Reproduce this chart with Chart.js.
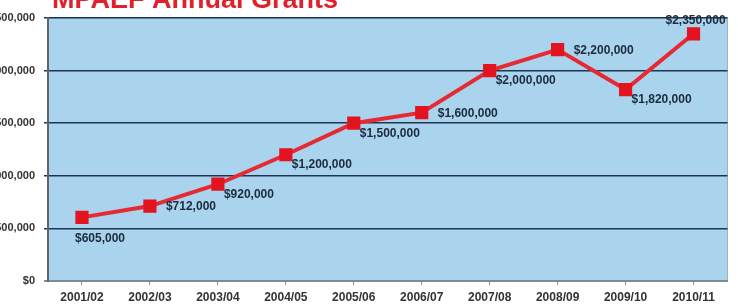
<!DOCTYPE html>
<html>
<head>
<meta charset="utf-8">
<script src="https://cdn.jsdelivr.net/npm/chart.js@4.4.1/dist/chart.umd.min.js"></script>
<style>
  html, body { margin: 0; padding: 0; background: #fff; }
  #wrap { position: relative; width: 738px; height: 304px; }
</style>
</head>
<body>
<div id="wrap"><canvas id="myChart"></canvas></div>
<script>
/* globals Chart:false */

const years = ['2001/02', '2002/03', '2003/04', '2004/05', '2005/06',
  '2006/07', '2007/08', '2008/09', '2009/10', '2010/11']
const grants = [605000, 712000, 920000, 1200000, 1500000,
  1600000, 2000000, 2200000, 1820000, 2350000]
const yTicks = [0, 500000, 1000000, 1500000, 2000000, 2500000]
const chartTitle = 'MPAEF Annual Grants'

// where each value label sits relative to its point
const labelPos = ['below', 'right', 'br', 'br', 'br', 'right', 'br', 'right', 'br', 'above']

const money = v => '$' + v.toLocaleString('en-US')

const plotBg = {
  id: 'plotBg',
  beforeDraw (chart) {
    const { ctx, chartArea: a } = chart
    ctx.save()
    ctx.fillStyle = '#aad3ee'
    ctx.fillRect(a.left, a.top, a.right - a.left, a.bottom - a.top)
    ctx.strokeStyle = '#9fb0bf'
    ctx.lineWidth = 1
    ctx.strokeRect(a.left, a.top, a.right - a.left, a.bottom - a.top)
    ctx.restore()
  }
}

const valueLabels = {
  id: 'valueLabels',
  afterDatasetsDraw (chart) {
    const { ctx } = chart
    const meta = chart.getDatasetMeta(0)
    ctx.save()
    ctx.font = 'bold 12px "Liberation Sans", Arial, sans-serif'
    ctx.fillStyle = '#1b2b3c'
    ctx.textBaseline = 'middle'
    meta.data.forEach((pt, i) => {
      const txt = money(grants[i])
      const pos = labelPos[i]
      let x = pt.x
      let y = pt.y
      ctx.textAlign = 'left'
      if (pos === 'right') { x += 16; y += 1 }
      if (pos === 'br') { x += 6; y += 10 }
      if (pos === 'below') { x -= 7; y += 21 }
      if (pos === 'above') { ctx.textAlign = 'center'; x += 2; y -= 13 }
      ctx.fillText(txt, x, y)
    })
    ctx.restore()
  }
}

const cutTitle = {
  id: 'cutTitle',
  afterDraw (chart) {
    const { ctx } = chart
    ctx.save()
    ctx.font = 'bold 27px "Liberation Sans", Arial, sans-serif'
    ctx.fillStyle = '#e2202c'
    ctx.textAlign = 'left'
    ctx.textBaseline = 'alphabetic'
    ctx.fillText(chartTitle, 52, 8)
    ctx.restore()
  }
}

new Chart(document.getElementById('myChart'), {
  type: 'line',
  data: {
    labels: years,
    datasets: [{
      data: grants,
      borderColor: '#e52a33',
      borderWidth: 4,
      backgroundColor: '#e3141f',
      pointBackgroundColor: '#e3141f',
      pointBorderColor: '#e3141f',
      pointStyle: 'rect',
      pointRadius: 6.5,
      pointHoverRadius: 6.5,
      tension: 0
    }]
  },
  options: {
    responsive: true,
    maintainAspectRatio: false,
    animation: false,
    layout: { padding: { top: 18, right: 3.5, left: 0, bottom: 0 } },
    plugins: {
      legend: { display: false },
      tooltip: { enabled: false }
    },
    scales: {
      x: {
        offset: true,
        afterFit (axis) {
          axis.height = 23
          axis.paddingLeft = 0
          axis.paddingRight = 0
        },
        grid: {
          drawOnChartArea: false,
          drawTicks: true,
          tickLength: 4,
          color: '#8794a1'
        },
        border: { color: '#7f8b97', width: 2 },
        ticks: {
          color: '#333',
          padding: 5,
          maxRotation: 0,
          font: { family: '"Liberation Sans", Arial, sans-serif', size: 12, weight: 'bold' }
        }
      },
      y: {
        min: 0,
        max: 2500000,
        afterFit (axis) { axis.width = 48 },
        afterBuildTicks (axis) { axis.ticks = yTicks.map(v => ({ value: v })) },
        grid: {
          color: ctx => ctx.tick && ctx.tick.value === 0 ? '#7f8b97' : '#1d3550',
          lineWidth: ctx => ctx.tick && ctx.tick.value === 0 ? 2 : 1.5,
          tickLength: 4
        },
        border: { color: '#5a6570', width: 2 },
        ticks: {
          color: '#333',
          padding: 9,
          callback: v => money(v),
          font: { family: '"Liberation Sans", Arial, sans-serif', size: 11, weight: 'bold' }
        }
      }
    }
  },
  plugins: [plotBg, valueLabels, cutTitle]
})
</script>
</body>
</html>
